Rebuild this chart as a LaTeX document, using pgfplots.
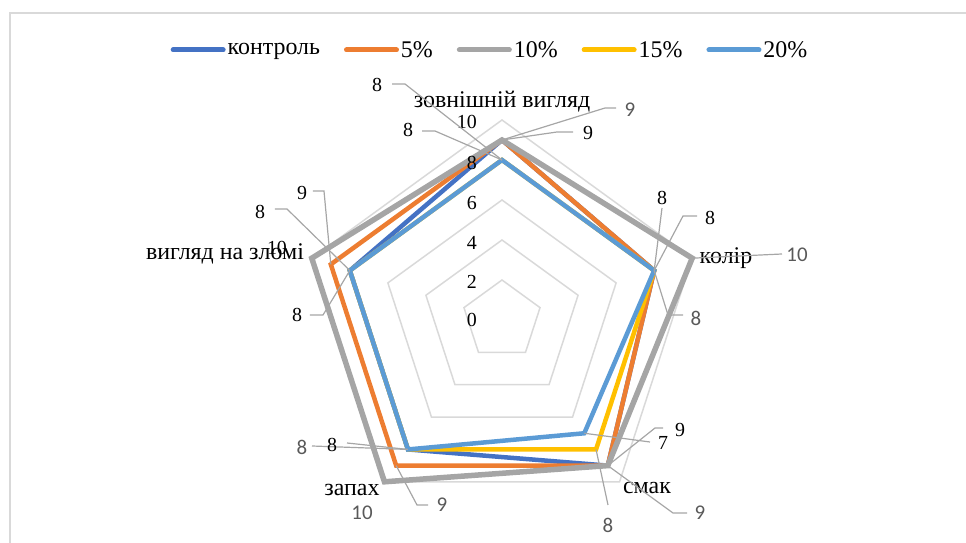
\documentclass[border=0pt]{standalone}
\usepackage{fontspec}
\setmainfont{Liberation Serif}
\newfontfamily\calibri{Carlito}
\usepackage{pgfplots}
\pgfplotsset{compat=1.18}
\usepgfplotslibrary{polar}
\usetikzlibrary{calc}
\definecolor{cctrl}{HTML}{4472C4}
\definecolor{cfive}{HTML}{ED7D31}
\definecolor{cten}{HTML}{A5A5A5}
\definecolor{cfift}{HTML}{FFC000}
\definecolor{ctwen}{HTML}{5B9BD5}
\definecolor{gridc}{HTML}{D9D9D9}
\definecolor{leadc}{HTML}{A6A6A6}
\definecolor{dlgray}{HTML}{595959}
\newcommand\catf{\fontsize{24}{24}\selectfont}
\newcommand\tickf{\fontsize{20}{20}\selectfont}
\newcommand\sdl{\calibri\fontsize{21}{21}\selectfont\color{dlgray}}
\newcommand\rdl{\fontsize{20}{20}\selectfont}
\begin{document}
\begin{tikzpicture}
\begin{polaraxis}[
  scale only axis, width=400bp, height=400bp,
  ymin=0, ymax=10, hide axis, clip=false,
  legend columns=5,
  legend style={at={(0.5,1)}, anchor=center, yshift=70bp, xshift=-12bp,
    draw=none, fill=none, font=\catf, inner sep=0pt,
    /tikz/every even column/.append style={column sep=22bp}},
  legend image code/.code={\draw[#1, line width=5bp, line cap=round] (0bp,0bp) -- (50bp,0bp);},
  every axis plot/.append style={line join=miter, mark=none},
]
\foreach \r in {2,4,6,8,10} {
  \edef\tmp{\noexpand\addplot[gridc, line width=1.5bp, forget plot] coordinates {(90,\r)(18,\r)(-54,\r)(-126,\r)(-198,\r)(90,\r)(18,\r)};}
  \tmp
}
\addplot[cctrl, line width=4.5bp] coordinates {(90,9)(18,8)(-54,9)(-126,8)(-198,8)(90,9)(18,8)};
\addplot[cfive, line width=4.5bp] coordinates {(90,9)(18,8)(-54,9)(-126,9)(-198,9)(90,9)(18,8)};
\addplot[cten, line width=5.5bp] coordinates {(90,9)(18,10)(-54,9)(-126,10)(-198,10)(90,9)(18,10)};
\addplot[cfift, line width=4.5bp] coordinates {(90,8)(18,8)(-54,8)(-126,8)(-198,8)(90,8)(18,8)};
\addplot[ctwen, line width=4.5bp] coordinates {(90,8)(18,8)(-54,7)(-126,8)(-198,8)(90,8)(18,8)};
\legend{контроль,5\%,10\%,15\%,20\%}
\coordinate (c) at (axis cs:0,0);
\coordinate (t8) at (axis cs:90,8);
\coordinate (t9) at (axis cs:90,9);
\coordinate (k8) at (axis cs:18,8);
\coordinate (k10) at (axis cs:18,10);
\coordinate (s7) at (axis cs:-54,7);
\coordinate (s8) at (axis cs:-54,8);
\coordinate (s9) at (axis cs:-54,9);
\coordinate (z8) at (axis cs:-126,8);
\coordinate (z9) at (axis cs:-126,9);
\coordinate (v8) at (axis cs:162,8);
\coordinate (v9) at (axis cs:162,9);
\end{polaraxis}
\begin{scope}[shift={(c)}, x=1bp, y=1bp]
\path[use as bounding box] (-502,320) rectangle (464,-223);
\draw[gridc, line width=2bp] (-492,-230) -- (-492,307) -- (470,307);
% radial tick labels
\foreach \v/\dy in {0/0,2/38,4/77,6/117,8/157,10/198}
  \node[anchor=east, font=\tickf, inner sep=0pt] at (-25,\dy) {\v};
% category labels
\node[font=\catf] at (0,218) {зовнішній вигляд};
\node[font=\catf] at (224,62) {колір};
\node[font=\catf] at (145,-168) {смак};
\node[font=\catf] at (-150,-170) {запах};
\node[font=\catf] at (-277,66) {вигляд на зломі};
% leader lines
\begin{scope}[leadc, line width=1.2bp]
\draw (-110,236) -- (-97,236) -- (t8);
\draw (-80,189) -- (-67,189) -- (t8);
\draw (114,212) -- (103,212) -- (t9);
\draw (71,188) -- (55,188) -- (t9);
\draw (160,112) -- (k8);
\draw (195,104) -- (181,104) -- (k8);
\draw (280,66) -- (k10);
\draw (181,5) -- (166,5) -- (k8);
\draw (161,-108) -- (153,-108) -- (s9);
\draw (148,-122) -- (s7);
\draw (185,-193) -- (171,-193) -- (s9);
\draw (106,-185) -- (s8);
\draw (-190,-126) -- (z8);
\draw (-155,-123) -- (z8);
\draw (-74,-185) -- (-85,-185) -- (z9);
\draw (-189,129) -- (-178,129) -- (v9);
\draw (-227,111) -- (-215,111) -- (v8);
\draw (-192,5) -- (-179,5) -- (v8);
\end{scope}
% data labels
\node[font=\rdl] at (-125,235) {8};
\node[font=\rdl] at (-94,190) {8};
\node[font=\sdl] at (128,210) {9};
\node[font=\rdl] at (86,187) {9};
\node[font=\rdl] at (160,122) {8};
\node[font=\rdl] at (208,102) {8};
\node[font=\sdl] at (295,65) {10};
\node[font=\sdl] at (194,2) {8};
\node[font=\rdl] at (178,-110) {9};
\node[font=\rdl] at (161,-123) {7};
\node[font=\sdl] at (198,-193) {9};
\node[font=\sdl] at (106,-205) {8};
\node[font=\sdl] at (-200,-127) {8};
\node[font=\rdl] at (-170,-125) {8};
\node[font=\sdl] at (-60,-185) {9};
\node[font=\sdl] at (-140,-193) {10};
\node[font=\rdl] at (-200,127) {9};
\node[font=\rdl] at (-242,108) {8};
\node[font=\rdl] at (-225,72) {10};
\node[font=\rdl] at (-205,5) {8};
\end{scope}
\end{tikzpicture}
\end{document}
